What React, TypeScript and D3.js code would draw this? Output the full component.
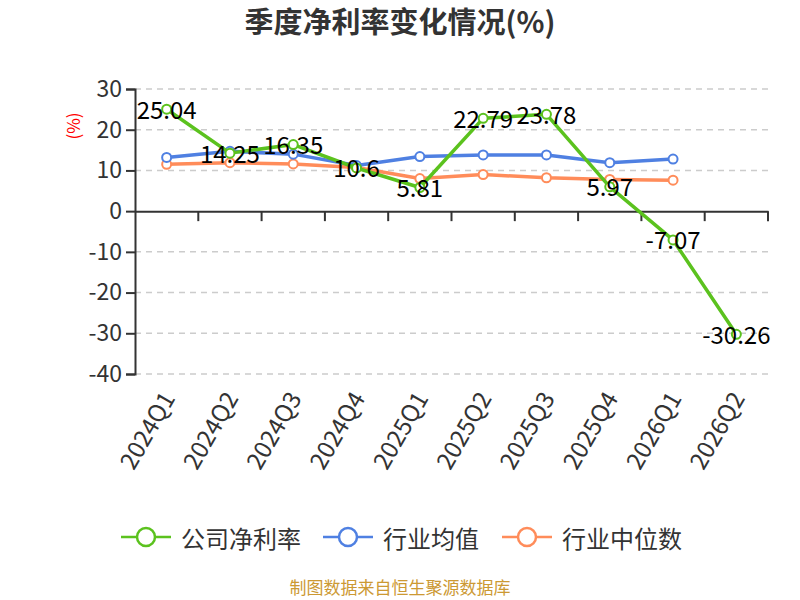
import React, { useRef, useEffect } from 'react';
import * as d3 from 'd3';

const quarters = ['2024Q1', '2024Q2', '2024Q3', '2024Q4', '2025Q1', '2025Q2', '2025Q3', '2025Q4', '2026Q1', '2026Q2'];
const companyRate = [25.04, 14.25, 16.35, 10.6, 5.81, 22.79, 23.78, 5.97, -7.07, -30.26];
const industryMean = [13.2, 14.7, 14.0, 11.2, 13.4, 13.8, 13.8, 11.9, 12.8];
const industryMedian = [11.5, 11.9, 11.6, 10.7, 8.0, 9.0, 8.2, 7.8, 7.6];
const yTicks = [30, 20, 10, 0, -10, -20, -30, -40];

const seriesNames = ['公司净利率', '行业均值', '行业中位数'];
const seriesColors = ['#5bc21e', '#4f80e2', '#ff8c5a'];

const FONT = '"Noto Sans CJK SC", "Noto Sans", sans-serif';

const App: React.FC = () => {
  const svgRef = useRef<SVGSVGElement | null>(null);
  const width = 800;
  const height = 600;
  const margin = { top: 89, right: 32, bottom: 226, left: 135 };

  useEffect(() => {
    const svg = d3.select(svgRef.current);
    svg.selectAll('*').remove();

    const innerWidth = width - margin.left - margin.right;
    const innerHeight = height - margin.top - margin.bottom;

    const x = d3.scaleBand().domain(quarters).range([0, innerWidth]);
    const y = d3.scaleLinear().domain([-40, 30]).range([innerHeight, 0]);
    const cx = (q: string) => x(q)! + x.bandwidth() / 2;

    const g = svg.append('g').attr('transform', `translate(${margin.left},${margin.top})`);

    // title
    svg.append('text')
      .attr('x', 400).attr('y', 33)
      .attr('text-anchor', 'middle')
      .style('font-family', FONT).style('font-size', '29px').style('font-weight', 'bold')
      .attr('fill', '#333')
      .text('季度净利率变化情况(%)');

    // grid
    g.append('g')
      .selectAll('line')
      .data(yTicks.filter(t => t !== 0))
      .join('line')
      .attr('x1', 0).attr('x2', innerWidth)
      .attr('y1', d => y(d)).attr('y2', d => y(d))
      .attr('stroke', '#ccc').attr('stroke-width', 1.5).attr('stroke-dasharray', '6,5');

    // y axis
    const yAxis = g.append('g')
      .call(d3.axisLeft(y).tickValues(yTicks).tickSize(9).tickPadding(4).tickFormat(d => String(d)));
    yAxis.select('.domain').attr('stroke', '#333').attr('stroke-width', 2);
    yAxis.selectAll('.tick line').attr('stroke', '#333').attr('stroke-width', 2);
    yAxis.selectAll('.tick text')
      .attr('fill', '#333').style('font-family', FONT).style('font-size', '23px');

    // x axis at zero
    const xAxis = g.append('g')
      .attr('transform', `translate(0,${y(0)})`)
      .call(d3.axisBottom(x).tickSize(0).tickFormat(() => ''));
    xAxis.select('.domain').attr('stroke', '#333').attr('stroke-width', 2);
    g.append('g')
      .selectAll('line')
      .data(quarters)
      .join('line')
      .attr('x1', d => x(d)! + x.bandwidth()).attr('x2', d => x(d)! + x.bandwidth())
      .attr('y1', y(0)).attr('y2', y(0) + 10)
      .attr('stroke', '#333').attr('stroke-width', 2);

    // x labels
    g.append('g')
      .selectAll('text')
      .data(quarters)
      .join('text')
      .attr('transform', d => `translate(${cx(d) + 2},${innerHeight + 20}) rotate(-60)`)
      .attr('text-anchor', 'end')
      .attr('dy', '0.35em')
      .attr('fill', '#333')
      .style('font-family', FONT).style('font-size', '24px')
      .text(d => d);

    // y unit
    svg.append('text')
      .attr('transform', `translate(72,126) rotate(-90)`)
      .attr('text-anchor', 'middle').attr('dominant-baseline', 'central')
      .attr('fill', 'red')
      .style('font-family', FONT).style('font-size', '17px')
      .text('(%)');

    const allSeries = [industryMedian, industryMean, companyRate];
    const colorIdx = [2, 1, 0];
    const line = d3.line<number>()
      .x((_, i) => cx(quarters[i]))
      .y(d => y(d));

    allSeries.forEach((vals, k) => {
      const color = seriesColors[colorIdx[k]];
      g.append('path')
        .datum(vals)
        .attr('d', line)
        .attr('fill', 'none')
        .attr('stroke', color)
        .attr('stroke-width', 3.5)
        .attr('stroke-linejoin', 'round');
      g.append('g')
        .selectAll('circle')
        .data(vals)
        .join('circle')
        .attr('cx', (_, i) => cx(quarters[i]))
        .attr('cy', d => y(d))
        .attr('r', 4.5)
        .attr('fill', '#fff')
        .attr('stroke', color)
        .attr('stroke-width', 2);
    });

    // data labels
    g.append('g')
      .selectAll('text')
      .data(companyRate)
      .join('text')
      .attr('x', (_, i) => cx(quarters[i]))
      .attr('y', d => y(d) - 1)
      .attr('text-anchor', 'middle')
      .attr('dominant-baseline', 'central')
      .attr('fill', '#000')
      .style('font-family', FONT).style('font-size', '24px')
      .text(d => String(d));

    // legend
    const legendX = [121, 323, 502];
    const lg = svg.append('g');
    seriesNames.forEach((name, i) => {
      const item = lg.append('g').attr('transform', `translate(${legendX[i]},537)`);
      item.append('line')
        .attr('x1', 0).attr('x2', 50).attr('y1', 0).attr('y2', 0)
        .attr('stroke', seriesColors[i]).attr('stroke-width', 2.5);
      item.append('circle')
        .attr('cx', 25).attr('cy', 0).attr('r', 9)
        .attr('fill', '#fff').attr('stroke', seriesColors[i]).attr('stroke-width', 2.5);
      item.append('text')
        .attr('x', 60).attr('y', 0)
        .attr('dominant-baseline', 'central')
        .attr('fill', '#333')
        .style('font-family', FONT).style('font-size', '24px')
        .text(name);
    });

    // source
    svg.append('text')
      .attr('x', 400).attr('y', 586)
      .attr('text-anchor', 'middle').attr('dominant-baseline', 'central')
      .attr('fill', '#cc9933')
      .style('font-family', FONT).style('font-size', '17px')
      .text('制图数据来自恒生聚源数据库');
  }, []);

  return (
    <svg
      ref={svgRef}
      width={width}
      height={height}
      style={{ position: 'absolute', left: 0, top: 0, background: '#fff' }}
    />
  );
};

export default App;
